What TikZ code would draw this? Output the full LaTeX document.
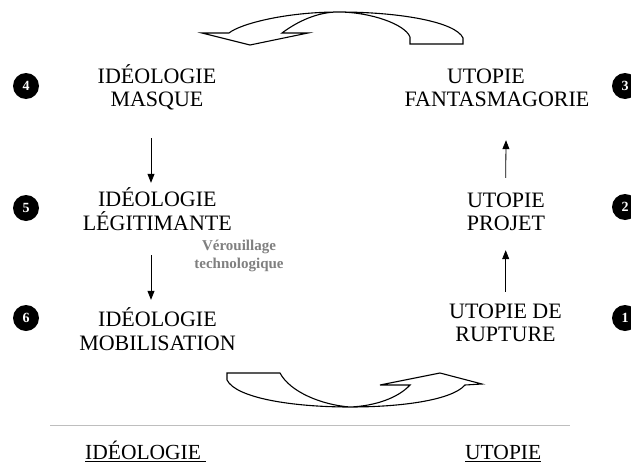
\documentclass[tikz,border=0pt]{standalone}
\usepackage{fontspec}
\setmainfont{Liberation Serif}
\usetikzlibrary{arrows.meta}
\definecolor{txtgray}{RGB}{128,128,128}
\definecolor{rulegray}{RGB}{190,190,190}
\newcommand\twoline[2]{\begin{tabular}[t]{@{}c@{}}\smash{#1}\\\smash{#2}\end{tabular}}
\newcommand\myul[1]{\setbox0\hbox{#1}\rlap{\rule[-2.4pt]{\wd0}{0.9pt}}\box0}
\begin{document}
\begin{tikzpicture}[x=1pt,y=-1pt,
  lab/.style={font=\fontsize{22}{23.5}\selectfont, anchor=base, inner sep=0pt},
  numc/.style={circle, fill=black, minimum size=26pt, inner sep=0pt, text=white,
    font=\fontsize{14}{14}\selectfont\bfseries},
  vflow/.style={draw=black, line width=0.8pt, -{Triangle[length=9pt,width=7pt]}},
  bigarrow/.style={draw=black, fill=white, line width=1.1pt, line join=miter},
  note/.style={font=\fontsize{15}{18}\selectfont\bfseries, text=txtgray, anchor=base,
    inner sep=0pt, align=center},
  bottomlab/.style={font=\fontsize{21.5}{23}\selectfont, anchor=base west, inner sep=0pt}]
\clip (0,0) rectangle (631,463);
\fill[white] (0,0) rectangle (631,463);

% numbered circles
\node[numc] (c4) at (26,86) {4};
\node[numc] (c5) at (26,208) {5};
\node[numc] (c6) at (26,318) {6};
\node[numc] (c3) at (625,86) {3};
\node[numc] (c2) at (625,207) {2};
\node[numc] (c1) at (625,318) {1};

% labels
\node[lab] (l4) at (157,83) {\twoline{IDÉOLOGIE}{MASQUE}};
\node[lab] (l5) at (157.3,206.7) {\twoline{IDÉOLOGIE}{LÉGITIMANTE}};
\node[lab] (l6) at (157.5,326.7) {\twoline{IDÉOLOGIE}{MOBILISATION}};
\node[lab] (r3) at (497,83) {\twoline{UTOPIE\hspace{22pt}}{FANTASMAGORIE}};
\node[lab] (r2) at (506,207) {\twoline{UTOPIE}{PROJET}};
\node[lab] (r1) at (505.5,318) {\twoline{UTOPIE DE}{RUPTURE}};

\node[note] (vt) at (239,268) {Vérouillage\\technologique};

% vertical arrows
\draw[vflow] ([xshift=-6pt,yshift=-24.4pt]l4.south) -- ([xshift=-6.3pt,yshift=7.25pt]l5.north);
\draw[vflow] ([xshift=-6.3pt,yshift=-17.75pt]l5.south) -- ([xshift=-6.5pt,yshift=10.25pt]l6.north);
\draw[vflow] ([xshift=0.2pt,yshift=9.85pt]r1.north) -- ([xshift=-0.3pt,yshift=-12.45pt]r2.south);
\draw[vflow] ([xshift=-0.3pt,yshift=12.55pt]r2.north) -- ([xshift=9pt,yshift=-26.45pt]r3.south);

% top curved arrow (from utopie to ideologie)
\draw[bigarrow] (410,44) -- (463,44) -- (463,38)
  .. controls (456,22) and (400,12) .. (339,12)
  .. controls (285,12) and (240,24) .. (229,33)
  -- (202,33) -- (250,45) -- (308,33) -- (282,33)
  .. controls (298,21) and (318,12) .. (338,12)
  .. controls (370,12) and (405,24) .. (410,37) -- cycle;

% bottom curved arrow (from ideologie to utopie)
\draw[bigarrow] (280,373) -- (227,373) -- (227,380)
  .. controls (236,398) and (292,407) .. (350,407)
  .. controls (402,407) and (452,400) .. (465,385)
  -- (482,384) -- (440,373) -- (380,385) -- (410,385)
  .. controls (398,398) and (375,406) .. (350,407)
  .. controls (322,405) and (290,392) .. (280,373) -- cycle;

% separator rule and bottom titles
\coordinate (ruleL) at (50,425);
\coordinate (ruleR) at (570,425);
\draw[rulegray, line width=1pt] (ruleL) -- (ruleR);
\node[bottomlab] (bi) at (85,459) {\myul{IDÉOLOGIE\ }};
\node[bottomlab] (bu) at (465,459) {\myul{UTOPIE}};
\end{tikzpicture}
\end{document}
